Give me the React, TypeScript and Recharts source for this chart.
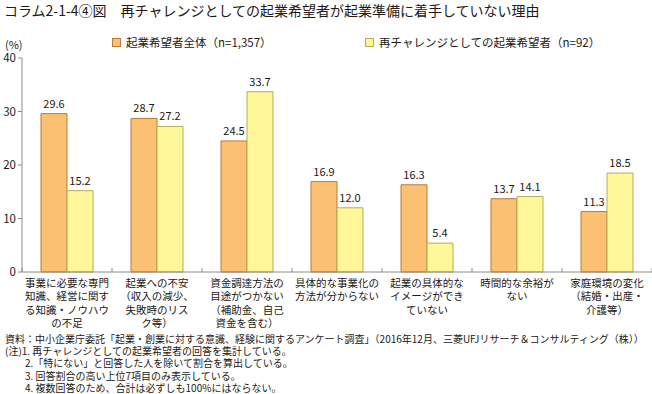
import React from "react";
import { BarChart, Bar, XAxis, YAxis, LabelList } from "recharts";

const categories = [
  "事業に必要な専門\n知識、経営に関す\nる知識・ノウハウ\nの不足",
  "起業への不安\n（収入の減少、\n失敗時のリス\nク等）",
  "資金調達方法の\n目途がつかない\n（補助金、自己\n資金を含む）",
  "具体的な事業化の\n方法が分からない",
  "起業の具体的な\nイメージができ\nていない",
  "時間的な余裕が\nない",
  "家庭環境の変化\n（結婚・出産・\n介護等）",
];
const allValues = [29.6, 28.7, 24.5, 16.9, 16.3, 13.7, 11.3];
const rechallengeValues = [15.2, 27.2, 33.7, 12.0, 5.4, 14.1, 18.5];
const yTicks = [0, 10, 20, 30, 40];
const seriesNames = ["起業希望者全体（n=1,357）", "再チャレンジとしての起業希望者（n=92）"];
const title = "コラム2-1-4④図　再チャレンジとしての起業希望者が起業準備に着手していない理由";
const notes = [
  "資料：中小企業庁委託「起業・創業に対する意識、経験に関するアンケート調査」（2016年12月、三菱UFJリサーチ＆コンサルティング（株））",
  "(注)1. 再チャレンジとしての起業希望者の回答を集計している。",
  "　　2.「特にない」と回答した人を除いて割合を算出している。",
  "　　3. 回答割合の高い上位7項目のみ表示している。",
  "　　4. 複数回答のため、合計は必ずしも100%にはならない。",
];

const data = categories.map((c, i) => ({ name: c, all: allValues[i], re: rechallengeValues[i] }));

const W = 652;
const H = 394;
const LEFT = 22;
const PLOT_W = W - LEFT;
const FONT = "'Noto Sans CJK JP', 'Noto Sans', sans-serif";
const TEXT = "#231815";
const AXIS = "#8c8c8c";

const CatTick = (props: any) => {
  const { x, y, payload, index } = props;
  const bw = PLOT_W / categories.length;
  const lines = String(payload.value).split("\n");
  return (
    <g>
      <line x1={x - bw / 2} x2={x - bw / 2} y1={y - 4} y2={y} stroke={AXIS} />
      {index === categories.length - 1 && (
        <line x1={x + bw / 2} x2={x + bw / 2} y1={y - 4} y2={y} stroke={AXIS} />
      )}
      <text textAnchor="middle" fontSize={10.5} fill={TEXT} fontFamily={FONT}>
        {lines.map((l, i) => (
          <tspan key={i} x={x} y={y + 14.5 + i * 13.5}>
            {l}
          </tspan>
        ))}
      </text>
    </g>
  );
};

export default function App() {
  return (
    <div style={{ position: "absolute", left: 0, top: 0, width: W, height: H, background: "#fff", fontFamily: FONT, color: TEXT, overflow: "hidden" }}>
      <div style={{ position: "absolute", left: 4, top: 0, fontSize: 14, whiteSpace: "nowrap", lineHeight: "20px" }}>{title}</div>
      <div style={{ position: "absolute", left: 5, top: 36, fontSize: 11, lineHeight: "16px" }}>(%)</div>
      <div style={{ position: "absolute", left: 112, top: 34, fontSize: 11.5, whiteSpace: "nowrap", display: "flex", alignItems: "center", lineHeight: "16px" }}>
        <span style={{ display: "inline-block", width: 7, height: 7, background: "#FBC071", border: "1px solid #B97B35", marginRight: 5 }} />
        {seriesNames[0]}
      </div>
      <div style={{ position: "absolute", left: 365, top: 34, fontSize: 11.5, whiteSpace: "nowrap", display: "flex", alignItems: "center", lineHeight: "16px" }}>
        <span style={{ display: "inline-block", width: 7, height: 7, background: "#FFF799", border: "1px solid #B5AD5A", marginRight: 5 }} />
        {seriesNames[1]}
      </div>
      <div style={{ position: "absolute", left: 0, top: 0 }}>
        <BarChart
          width={W}
          height={H}
          data={data}
          margin={{ top: 58, right: 0, bottom: 0, left: 0 }}
          barGap={0}
          barSize={26}
        >
          <YAxis
            width={LEFT}
            domain={[0, 40]}
            ticks={yTicks}
            interval={0}
            tickSize={4}
            tickMargin={2}
            axisLine={{ stroke: AXIS }}
            tickLine={{ stroke: AXIS }}
            tick={{ fontSize: 11.5, fill: TEXT, fontFamily: FONT }}
          />
          <XAxis
            dataKey="name"
            height={H - 272}
            interval={0}
            tickSize={0}
            tickMargin={0}
            axisLine={{ stroke: AXIS }}
            tickLine={false}
            tick={<CatTick />}
          />
          <Bar dataKey="all" fill="#FBC071" stroke="#B97B35" strokeWidth={1} isAnimationActive={false}>
            <LabelList dataKey="all" position="top" offset={6} formatter={(v: any) => Number(v).toFixed(1)} style={{ fontSize: 11, fill: TEXT, fontFamily: FONT }} />
          </Bar>
          <Bar dataKey="re" fill="#FFF799" stroke="#B5AD5A" strokeWidth={1} isAnimationActive={false}>
            <LabelList dataKey="re" position="top" offset={6} formatter={(v: any) => Number(v).toFixed(1)} style={{ fontSize: 11, fill: TEXT, fontFamily: FONT }} />
          </Bar>
        </BarChart>
      </div>
      <div style={{ position: "absolute", left: 5, top: 333, fontSize: 10, lineHeight: "12.2px", whiteSpace: "pre", letterSpacing: 0 }}>
        {notes.map((n, i) => (
          <div key={i}>{n}</div>
        ))}
      </div>
    </div>
  );
}
